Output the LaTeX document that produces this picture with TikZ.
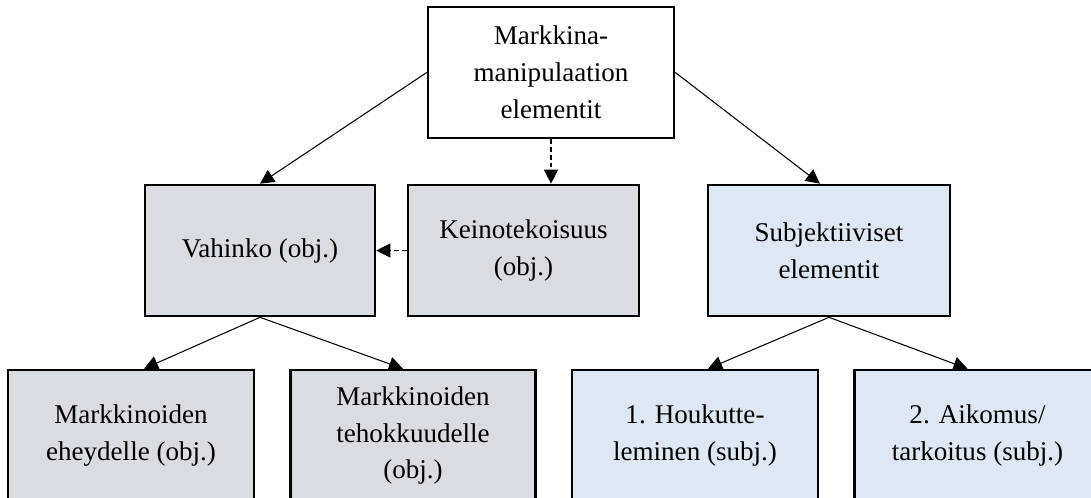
\documentclass[tikz,border=0pt]{standalone}
\usepackage{fontspec}
\setmainfont{Liberation Serif}
\usetikzlibrary{arrows.meta, positioning}
\definecolor{objgrey}{RGB}{217,220,225}
\definecolor{subjblue}{RGB}{222,232,245}

\begin{document}
\begin{tikzpicture}[x=0.02cm, y=-0.02cm,
	elbox/.style={draw=black, line width=1.5pt, align=center, minimum height=2.62cm, inner sep=2pt, font=\fontsize{15.4}{21}\selectfont},
	objbox/.style={elbox, fill=objgrey},
	subjbox/.style={elbox, fill=subjblue},
	conn/.style={line width=0.6pt, -{Triangle[length=8pt, width=8pt]}},
	dconn/.style={conn, dash pattern=on 2.5pt off 2pt}]
\useasboundingbox (0,0) rectangle (1091,497);
\clip (0,0) rectangle (1091,497);

% top
\node[elbox, fill=white, minimum width=4.92cm] (elem) at (551,72.5) {Markkina-\\manipulaation\\elementit};

% middle row
\node[objbox, minimum width=4.6cm] (vahinko) at (260,250.5) {Vahinko (obj.)};
\node[objbox, minimum width=4.62cm] (keino) at (523.5,250.5) {Keinotekoisuus\\(obj.)};
\node[subjbox, minimum width=4.84cm] (subj) at (829,250.5) {Subjektiiviset\\elementit};

% bottom row
\node[objbox, minimum width=4.92cm] (eheys) at (131,435.5) {Markkinoiden\\eheydelle (obj.)};
\node[objbox, minimum width=4.9cm] (tehokk) at (413,435.5) {Markkinoiden\\tehokkuudelle\\(obj.)};
\node[subjbox, minimum width=4.92cm] (houkut) at (695,435.5) {1. Houkutte-\\leminen (subj.)};
\node[subjbox, minimum width=4.92cm] (aikomus) at (977.5,435.5) {2. Aikomus/\\tarkoitus (subj.)};

\draw[conn] (elem.west) -- (vahinko.north);
\draw[conn] (elem.east) -- ([xshift=-0.18cm]subj.north);
\draw[dconn] (elem.south) -- (elem.south |- keino.north);
\draw[dconn] (keino.west) -- (vahinko.east);

\draw[conn] (vahinko.south) -- ([xshift=0.26cm]eheys.north);
\draw[conn] (vahinko.south) -- ([xshift=-0.2cm]tehokk.north);
\draw[conn] (subj.south) -- ([xshift=0.26cm]houkut.north);
\draw[conn] (subj.south) -- ([xshift=-0.2cm]aikomus.north);
\end{tikzpicture}
\end{document}
